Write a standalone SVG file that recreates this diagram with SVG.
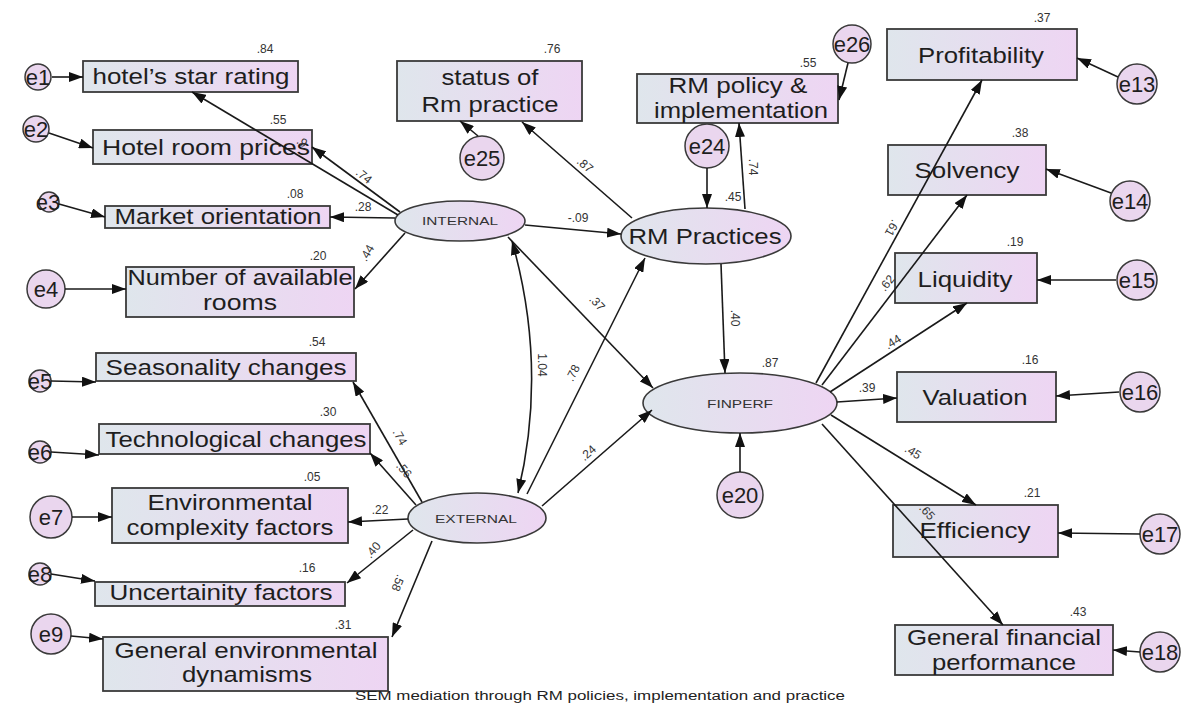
<svg xmlns="http://www.w3.org/2000/svg" width="1183" height="706" viewBox="0 0 1183 706">
  <defs>
    <linearGradient id="fillGrad" x1="0" y1="0" x2="1" y2="0">
      <stop offset="0" stop-color="#dfe6ec"/>
      <stop offset="1" stop-color="#eed5f3"/>
    </linearGradient>
    <marker id="arrow" viewBox="0 0 14 10" refX="14" refY="5" markerWidth="14" markerHeight="10" markerUnits="userSpaceOnUse" orient="auto-start-reverse">
      <path d="M0,0 L14,5 L0,10 z" fill="#111"/>
    </marker>
    <style>
      .box { fill: url(#fillGrad); stroke: #3a3a3a; stroke-width: 1.8; }
      .lat { fill: url(#fillGrad); stroke: #3a3a3a; stroke-width: 1.6; }
      .err { fill: #ead6ee; stroke: #3a3a3a; stroke-width: 1.5; }
      .t { font-family: "Liberation Sans", Arial, sans-serif; font-size: 22px; fill: #1e1e1e; text-anchor: middle; }
      .ts { font-family: "Liberation Sans", Arial, sans-serif; font-size: 11px; fill: #333; text-anchor: middle; }
      .te { font-family: "Liberation Sans", Arial, sans-serif; font-size: 22px; fill: #1e1e1e; text-anchor: middle; }
      .n { font-family: "Liberation Sans", Arial, sans-serif; font-size: 12px; fill: #333; text-anchor: middle; }
      .cap { font-family: "Liberation Sans", Arial, sans-serif; font-size: 12px; fill: #222; }
      .c path { fill: none; stroke: #1a1a1a; stroke-width: 1.6; marker-end: url(#arrow); }
    </style>
  </defs>
  <rect width="1183" height="706" fill="#ffffff"/>

  <!-- INTERNAL indicators -->
  <g id="star_rating"><rect class="box" x="83" y="61" width="215" height="31"/><text class="t" x="191" y="84" textLength="197" lengthAdjust="spacingAndGlyphs">hotel’s star rating</text></g>
  <g id="room_prices"><rect class="box" x="93" y="130" width="219" height="34"/><text class="t" x="206" y="155" textLength="208" lengthAdjust="spacingAndGlyphs">Hotel room prices</text></g>
  <g id="market_orientation"><rect class="box" x="105" y="206" width="225" height="22"/><text class="t" x="218" y="224" textLength="207" lengthAdjust="spacingAndGlyphs">Market orientation</text></g>
  <g id="available_rooms"><rect class="box" x="126" y="267" width="228" height="50"/><text class="t" x="240" y="285" textLength="225" lengthAdjust="spacingAndGlyphs">Number of available</text><text class="t" x="240" y="310" textLength="74" lengthAdjust="spacingAndGlyphs">rooms</text></g>

  <!-- EXTERNAL indicators -->
  <g id="seasonality"><rect class="box" x="96" y="353" width="260" height="28"/><text class="t" x="226" y="375" textLength="241" lengthAdjust="spacingAndGlyphs">Seasonality changes</text></g>
  <g id="technological"><rect class="box" x="99" y="424" width="271" height="30"/><text class="t" x="236" y="447" textLength="261" lengthAdjust="spacingAndGlyphs">Technological changes</text></g>
  <g id="env_complexity"><rect class="box" x="112" y="488" width="236" height="55"/><text class="t" x="230" y="510" textLength="165" lengthAdjust="spacingAndGlyphs">Environmental</text><text class="t" x="230" y="535" textLength="207" lengthAdjust="spacingAndGlyphs">complexity factors</text></g>
  <g id="uncertainity"><rect class="box" x="95" y="582" width="250" height="24"/><text class="t" x="221" y="600" textLength="223" lengthAdjust="spacingAndGlyphs">Uncertainity factors</text></g>
  <g id="env_dynamisms"><rect class="box" x="103" y="637" width="285" height="54"/><text class="t" x="246" y="658" textLength="263" lengthAdjust="spacingAndGlyphs">General environmental</text><text class="t" x="247" y="682" textLength="130" lengthAdjust="spacingAndGlyphs">dynamisms</text></g>

  <!-- RM practice indicators -->
  <g id="status_rm"><rect class="box" x="397" y="61" width="185" height="60"/><text class="t" x="490" y="85" textLength="97" lengthAdjust="spacingAndGlyphs">status of</text><text class="t" x="490" y="112" textLength="137" lengthAdjust="spacingAndGlyphs">Rm practice</text></g>
  <g id="rm_policy"><rect class="box" x="637" y="74" width="201" height="49"/><text class="t" x="738" y="93" textLength="139" lengthAdjust="spacingAndGlyphs">RM policy &amp;</text><text class="t" x="741" y="118" textLength="174" lengthAdjust="spacingAndGlyphs">implementation</text></g>

  <!-- FINPERF indicators -->
  <g id="profitability"><rect class="box" x="887" y="29" width="190" height="51"/><text class="t" x="981" y="63" textLength="126" lengthAdjust="spacingAndGlyphs">Profitability</text></g>
  <g id="solvency"><rect class="box" x="888" y="145" width="158" height="50"/><text class="t" x="967" y="178" textLength="105" lengthAdjust="spacingAndGlyphs">Solvency</text></g>
  <g id="liquidity"><rect class="box" x="895" y="253" width="142" height="50"/><text class="t" x="965" y="287" textLength="95" lengthAdjust="spacingAndGlyphs">Liquidity</text></g>
  <g id="valuation"><rect class="box" x="897" y="372" width="159" height="50"/><text class="t" x="975" y="405" textLength="105" lengthAdjust="spacingAndGlyphs">Valuation</text></g>
  <g id="efficiency"><rect class="box" x="893" y="505" width="165" height="52"/><text class="t" x="975" y="538" textLength="111" lengthAdjust="spacingAndGlyphs">Efficiency</text></g>
  <g id="general_financial"><rect class="box" x="895" y="625" width="218" height="50"/><text class="t" x="1004" y="645" textLength="194" lengthAdjust="spacingAndGlyphs">General financial</text><text class="t" x="1004" y="670" textLength="144" lengthAdjust="spacingAndGlyphs">performance</text></g>

  <!-- latent variables -->
  <g id="internal"><ellipse class="lat" cx="460" cy="221" rx="65" ry="20"/><text class="ts" x="460" y="225" textLength="76" lengthAdjust="spacingAndGlyphs">INTERNAL</text></g>
  <g id="external"><ellipse class="lat" cx="477" cy="518" rx="69" ry="25"/><text class="ts" x="476" y="523" textLength="82" lengthAdjust="spacingAndGlyphs">EXTERNAL</text></g>
  <g id="rm_practices"><ellipse class="lat" cx="706" cy="236" rx="85" ry="28"/><text class="t" x="705" y="244" textLength="153" lengthAdjust="spacingAndGlyphs">RM Practices</text></g>
  <g id="finperf"><ellipse class="lat" cx="740" cy="403" rx="97" ry="30"/><text class="ts" x="740" y="408" textLength="66" lengthAdjust="spacingAndGlyphs">FINPERF</text></g>

  <!-- error terms -->
  <g id="e1"><circle class="err" cx="38" cy="77" r="13"/><text class="te" x="38" y="85">e1</text></g>
  <g id="e2"><circle class="err" cx="36" cy="129" r="13"/><text class="te" x="36" y="137">e2</text></g>
  <g id="e3"><circle class="err" cx="49" cy="202" r="10"/><text class="te" x="48" y="210">e3</text></g>
  <g id="e4"><circle class="err" cx="46" cy="289" r="19"/><text class="te" x="46" y="297">e4</text></g>
  <g id="e5"><circle class="err" cx="40" cy="381" r="11"/><text class="te" x="40" y="389">e5</text></g>
  <g id="e6"><circle class="err" cx="40" cy="452" r="11"/><text class="te" x="40" y="460">e6</text></g>
  <g id="e7"><circle class="err" cx="51" cy="517" r="21"/><text class="te" x="51" y="525">e7</text></g>
  <g id="e8"><circle class="err" cx="40" cy="574" r="11"/><text class="te" x="40" y="582">e8</text></g>
  <g id="e9"><circle class="err" cx="51" cy="634" r="20"/><text class="te" x="51" y="642">e9</text></g>
  <g id="e25"><circle class="err" cx="482" cy="158" r="22"/><text class="te" x="482" y="166">e25</text></g>
  <g id="e24"><circle class="err" cx="707" cy="146" r="22"/><text class="te" x="707" y="154">e24</text></g>
  <g id="e26"><circle class="err" cx="852" cy="44" r="19"/><text class="te" x="852" y="52">e26</text></g>
  <g id="e20"><circle class="err" cx="740" cy="495" r="23"/><text class="te" x="740" y="503">e20</text></g>
  <g id="e13"><circle class="err" cx="1137" cy="84" r="20"/><text class="te" x="1137" y="92">e13</text></g>
  <g id="e14"><circle class="err" cx="1130" cy="201" r="20"/><text class="te" x="1130" y="209">e14</text></g>
  <g id="e15"><circle class="err" cx="1137" cy="280" r="20"/><text class="te" x="1137" y="288">e15</text></g>
  <g id="e16"><circle class="err" cx="1140" cy="392" r="20"/><text class="te" x="1140" y="400">e16</text></g>
  <g id="e17"><circle class="err" cx="1160" cy="534" r="20"/><text class="te" x="1160" y="542">e17</text></g>
  <g id="e18"><circle class="err" cx="1160" cy="652" r="20"/><text class="te" x="1160" y="660">e18</text></g>

  <!-- connectors, drawn over the boxes they cross -->
  <g id="connectors" class="c">
    <path d="M52,77 L83,77"/>
    <path d="M49,133 L93,148"/>
    <path d="M59,204 L105,217"/>
    <path d="M65,289 L126,289"/>
    <path d="M398,215 L192,92"/>
    <path d="M400,212 L312,147"/>
    <path d="M395,218 L330,217"/>
    <path d="M405,233 L355,289"/>
    <path d="M51,381 L96,382"/>
    <path d="M51,452 L99,455"/>
    <path d="M72,517 L112,517"/>
    <path d="M51,574 L95,581"/>
    <path d="M71,636 L103,639"/>
    <path d="M422,502 L353,382"/>
    <path d="M416,505 L370,453"/>
    <path d="M408,519 L348,522"/>
    <path d="M413,530 L347,583"/>
    <path d="M432,541 L392,637"/>
    <path d="M525,225 L621,234"/>
    <path d="M632,218 L522,122"/>
    <path d="M478,136 L460,121"/>
    <path d="M707,168 L707,208"/>
    <path d="M745,209 L739,123"/>
    <path d="M848,63 L839,100"/>
    <path d="M721,264 L725,373"/>
    <path d="M508,237 L653,388"/>
    <path d="M512,241 Q548,368 518,493" marker-start="url(#arrow)"/>
    <path d="M527,494 L645,258"/>
    <path d="M542,506 L652,410"/>
    <path d="M740,472 L740,433"/>
    <path d="M816,383 L982,80"/>
    <path d="M822,385 L967,195"/>
    <path d="M830,392 L967,303"/>
    <path d="M837,402 L897,398"/>
    <path d="M831,415 L976,505"/>
    <path d="M822,424 L1003,625"/>
    <path d="M1118,77 L1077,58"/>
    <path d="M1111,193 L1046,169"/>
    <path d="M1116,280 L1037,280"/>
    <path d="M1119,392 L1056,396"/>
    <path d="M1140,534 L1058,533"/>
    <path d="M1140,652 L1113,650"/>
  </g>

  <!-- path coefficients -->
  <g id="coefficients">
    <text class="n" x="302" y="146" transform="rotate(31 302 142)">.9</text>
    <text class="n" x="364" y="180" transform="rotate(39 364 176)">.74</text>
    <text class="n" x="363" y="211">.28</text>
    <text class="n" x="367" y="257" transform="rotate(-60 367 253)">.44</text>
    <text class="n" x="400" y="441" transform="rotate(60 400 437)">.74</text>
    <text class="n" x="404" y="474" transform="rotate(50 404 470)">.56</text>
    <text class="n" x="380" y="514">.22</text>
    <text class="n" x="373" y="554" transform="rotate(-50 373 550)">.40</text>
    <text class="n" x="398" y="587" transform="rotate(112 398 583)">.58</text>
    <text class="n" x="585" y="169" transform="rotate(41 585 165)">.87</text>
    <text class="n" x="578" y="222">-.09</text>
    <text class="n" x="733" y="201">.45</text>
    <text class="n" x="753" y="171" transform="rotate(90 753 167)">.74</text>
    <text class="n" x="597" y="307" transform="rotate(47 597 303)">.37</text>
    <text class="n" x="542" y="369" transform="rotate(90 542 365)">1.04</text>
    <text class="n" x="573" y="377" transform="rotate(-63 573 373)">.78</text>
    <text class="n" x="588" y="457" transform="rotate(-42 588 453)">.24</text>
    <text class="n" x="735" y="322" transform="rotate(90 735 318)">.40</text>
    <text class="n" x="892" y="232" transform="rotate(119 892 228)">.61</text>
    <text class="n" x="887" y="287" transform="rotate(-52 887 283)">.62</text>
    <text class="n" x="893" y="346" transform="rotate(-32 893 342)">.44</text>
    <text class="n" x="867" y="392">.39</text>
    <text class="n" x="913" y="456" transform="rotate(32 913 452)">.45</text>
    <text class="n" x="927" y="516" transform="rotate(48 927 512)">.65</text>
  </g>

  <!-- squared multiple correlations -->
  <g id="r2">
    <text class="n" x="265" y="53">.84</text>
    <text class="n" x="278" y="124">.55</text>
    <text class="n" x="295" y="198">.08</text>
    <text class="n" x="318" y="260">.20</text>
    <text class="n" x="317" y="346">.54</text>
    <text class="n" x="328" y="416">.30</text>
    <text class="n" x="312" y="481">.05</text>
    <text class="n" x="307" y="572">.16</text>
    <text class="n" x="343" y="629">.31</text>
    <text class="n" x="552" y="53">.76</text>
    <text class="n" x="808" y="67">.55</text>
    <text class="n" x="770" y="367">.87</text>
    <text class="n" x="1042" y="22">.37</text>
    <text class="n" x="1020" y="137">.38</text>
    <text class="n" x="1015" y="246">.19</text>
    <text class="n" x="1030" y="364">.16</text>
    <text class="n" x="1032" y="497">.21</text>
    <text class="n" x="1078" y="616">.43</text>
  </g>

  <text class="cap" x="355" y="700" textLength="490" lengthAdjust="spacingAndGlyphs">SEM  mediation through RM policies, implementation and practice</text>
</svg>
